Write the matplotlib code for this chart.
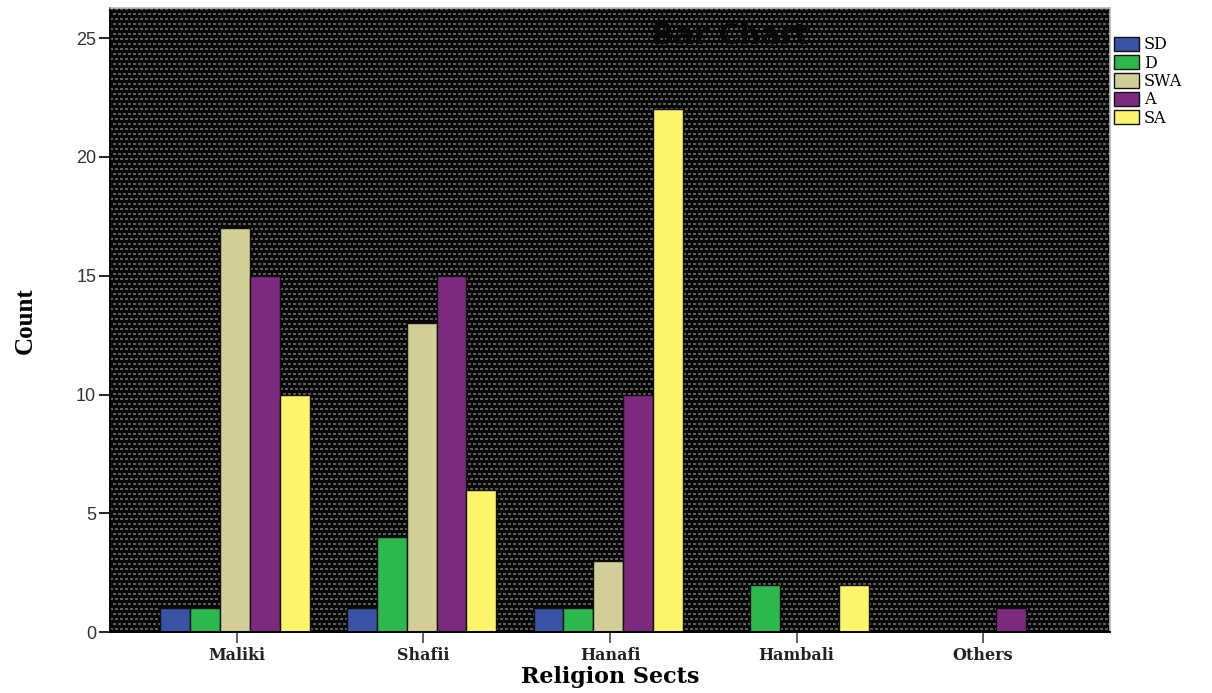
import numpy as np
import matplotlib
matplotlib.use("Agg")
import matplotlib.pyplot as plt

sects = ["Maliki", "Shafii", "Hanafi", "Hambali", "Others"]
responses = ["SD", "D", "SWA", "A", "SA"]
sd = [1, 1, 1, 0, 0]
d = [1, 4, 1, 2, 0]
swa = [17, 13, 3, 0, 0]
a = [15, 15, 10, 0, 1]
sa = [10, 6, 22, 2, 0]
yticks = [0, 5, 10, 15, 20, 25]

colors = ["#3953a4", "#2db84d", "#d3ce97", "#7b2a7d", "#faf56b"]
series = [sd, d, swa, a, sa]

fig = plt.figure(figsize=(12.12, 6.93), dpi=100)
ax = fig.add_axes([0.0908, 0.088, 0.825, 0.900])

# dotted dark background of the plot area
w_px, h_px = 1000, 624
yy, xx = np.mgrid[0:h_px, 0:w_px]
shift = (yy // 5) % 2 * 2
dots = ((xx + shift) % 5 < 3) & (yy % 5 < 2)
bg = np.where(dots, 0.36, 0.03)
ax.imshow(bg, cmap="gray", vmin=0, vmax=1, extent=[0, 1, 0, 1],
          transform=ax.transAxes, aspect="auto", interpolation="nearest", zorder=0)

x = np.arange(len(sects))
width = 0.16
for k, (vals, col, lab) in enumerate(zip(series, colors, responses)):
    pos = x + (k - 2) * width - 0.01
    ax.bar(pos, vals, width=width, color=col, edgecolor="#111111",
           linewidth=1.0, label=lab, zorder=2)

ax.set_xlim(-0.68, 4.68)
ax.set_ylim(0, 26.26)
ax.set_yticks(yticks)
ax.set_yticklabels([str(v) for v in yticks], fontfamily="Liberation Sans",
                   fontsize=13, color="#333333")
ax.set_xticks(x)
ax.set_xticklabels(sects, fontfamily="DejaVu Serif", fontsize=11.5,
                   fontweight="bold", color="#222222")
ax.tick_params(axis="y", length=8, width=1.2, pad=2)
ax.tick_params(axis="x", length=8, width=1.2, pad=3, color="#444444")

for s in ["left", "bottom"]:
    ax.spines[s].set_color("black")
    ax.spines[s].set_linewidth(1.4)
for s in ["top", "right"]:
    ax.spines[s].set_color("#bbbbbb")
    ax.spines[s].set_linewidth(1.2)

ax.set_xlabel("Religion Sects", fontfamily="DejaVu Serif", fontsize=16,
              fontweight="bold", labelpad=1)
ax.set_ylabel("Count", fontfamily="Liberation Serif", fontsize=18,
              fontweight="bold", labelpad=28)
ax.set_title("Bar Chart", fontfamily="DejaVu Sans", fontsize=21,
             fontweight="bold", color="#080808", y=0.93, x=0.62)

leg = ax.legend(loc="upper left", bbox_to_anchor=(1.001, 0.96), frameon=False,
                prop={"family": "DejaVu Serif", "size": 11.5},
                handlelength=1.55, handleheight=1.0, labelspacing=0.08,
                handletextpad=0.3, borderaxespad=0.0, borderpad=0.2)

fig.savefig("out.png", dpi=100, facecolor="white")
